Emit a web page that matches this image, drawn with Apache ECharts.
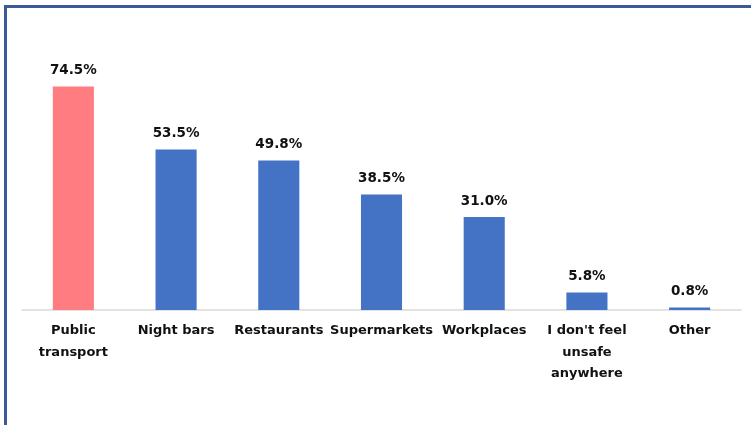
<!DOCTYPE html>
<html>
<head>
<meta charset="utf-8">
<script src="https://cdn.jsdelivr.net/npm/echarts@6/dist/echarts.min.js"></script>
<style>
  html, body { margin: 0; padding: 0; background: #fff; }
  #frame {
    position: absolute; left: 4px; top: 5px; width: 800px; height: 500px;
    border-top: 3px solid #3c5a98; border-left: 3px solid #3c5a98;
  }
  #chart { position: absolute; left: 0; top: 0; width: 751px; height: 425px; }
</style>
</head>
<body>
<div id="frame"></div>
<div id="chart"></div>
<script>
// places where people feel unsafe (%)
var categories = ['Public\ntransport', 'Night bars', 'Restaurants', 'Supermarkets',
  'Workplaces', "I don't feel\nunsafe\nanywhere", 'Other']
var values = [74.5, 53.5, 49.8, 38.5, 31.0, 5.8, 0.8]
var highlightIndex = 0

var chart = echarts.init(document.getElementById('chart'))

chart.setOption({
  animation: false,
  textStyle: { fontFamily: 'DejaVu Sans' },
  grid: { left: 22, right: 10, top: 70, bottom: 115 },
  xAxis: {
    type: 'category',
    data: categories,
    axisTick: { show: false },
    axisLine: { lineStyle: { color: '#d9d9d9', width: 1.5 } },
    axisLabel: {
      interval: 0,
      margin: 10,
      color: '#111',
      fontWeight: 'bold',
      fontSize: 13,
      lineHeight: 21.5
    }
  },
  yAxis: {
    type: 'value',
    min: 0,
    max: 80,
    show: false
  },
  series: [{
    type: 'bar',
    barCategoryGap: '60%',
    data: values.map(function (v, i) {
      return {
        value: v,
        itemStyle: { color: i === highlightIndex ? '#ff7c80' : '#4472c4' }
      }
    }),
    label: {
      show: true,
      position: 'top',
      distance: 9,
      color: '#111',
      fontWeight: 'bold',
      fontSize: 13.5,
      formatter: function (p) { return p.value.toFixed(1) + '%' }
    }
  }]
})
</script>
</body>
</html>
